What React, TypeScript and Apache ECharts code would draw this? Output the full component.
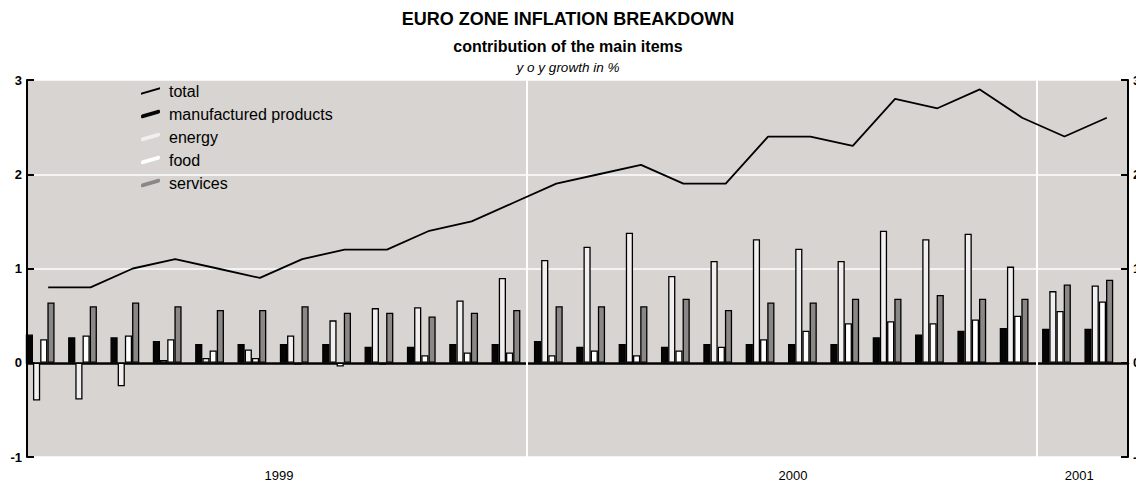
import React, { useEffect, useRef } from "react";
import * as echarts from "echarts";

const months = [
  "1999-01", "1999-02", "1999-03", "1999-04", "1999-05", "1999-06",
  "1999-07", "1999-08", "1999-09", "1999-10", "1999-11", "1999-12",
  "2000-01", "2000-02", "2000-03", "2000-04", "2000-05", "2000-06",
  "2000-07", "2000-08", "2000-09", "2000-10", "2000-11", "2000-12",
  "2001-01", "2001-02",
];

const total = [0.8, 0.8, 1.0, 1.1, 1.0, 0.9, 1.1, 1.2, 1.2, 1.4, 1.5, 1.7, 1.9, 2.0, 2.1, 1.9, 1.9, 2.4, 2.4, 2.3, 2.8, 2.7, 2.9, 2.6, 2.4, 2.6];
const manufactured = [0.30, 0.27, 0.27, 0.23, 0.20, 0.20, 0.20, 0.20, 0.17, 0.17, 0.20, 0.20, 0.23, 0.17, 0.20, 0.17, 0.20, 0.20, 0.20, 0.20, 0.27, 0.30, 0.34, 0.37, 0.36, 0.36];
const energy = [-0.40, -0.39, -0.25, 0.03, 0.05, 0.14, 0.29, 0.45, 0.58, 0.59, 0.66, 0.90, 1.09, 1.23, 1.38, 0.92, 1.08, 1.31, 1.21, 1.08, 1.40, 1.31, 1.37, 1.02, 0.76, 0.82];
const food = [0.25, 0.29, 0.29, 0.25, 0.13, 0.05, -0.02, -0.04, -0.02, 0.08, 0.11, 0.11, 0.08, 0.13, 0.08, 0.13, 0.17, 0.25, 0.34, 0.42, 0.44, 0.42, 0.46, 0.50, 0.55, 0.65];
const services = [0.64, 0.60, 0.64, 0.60, 0.56, 0.56, 0.60, 0.53, 0.53, 0.49, 0.53, 0.56, 0.60, 0.60, 0.60, 0.68, 0.56, 0.64, 0.64, 0.68, 0.68, 0.72, 0.68, 0.68, 0.83, 0.88];

const yearLabels = ["1999", "2000", "2001"];

const FONT = "'Liberation Sans', Arial, Helvetica, sans-serif";

const THIN_ICON = "path://M0,5.6 L19,0 L19,1.9 L0,7.5 Z";
const THICK_ICON =
  "path://M1.8,5.2 L16.5,0.8 C18.2,0.3 19,0.8 19,2.2 L19,2.8 C19,3.8 18.4,4.2 17.2,4.6 L2.5,9 C0.8,9.5 0,9 0,7.6 L0,7 C0,6 0.6,5.6 1.8,5.2 Z";

export default function App() {
  const ref = useRef<HTMLDivElement>(null);

  useEffect(() => {
    if (!ref.current) return;
    const chart = echarts.init(ref.current, undefined, { renderer: "svg" });

    const yearPos = [5.95, 18.09, 24.85];
    const boundaries = [11.8, 23.85];

    const barStyle = (color: string) => ({
      color,
      borderColor: "#000",
      borderWidth: 1.3,
    });

    const axisBlack = { color: "#000", width: 2 };

    const option: any = {
      animation: false,
      backgroundColor: "#ffffff",
      title: [
        {
          text: "EURO ZONE INFLATION BREAKDOWN",
          left: "center",
          top: 5,
          textStyle: { fontFamily: FONT, fontWeight: "bold", fontSize: 18, color: "#000" },
        },
        {
          text: "contribution of the main items",
          left: "center",
          top: 33,
          textStyle: { fontFamily: FONT, fontWeight: "bold", fontSize: 16, color: "#000" },
        },
        {
          text: "y o y growth in %",
          left: "center",
          top: 55,
          textStyle: { fontFamily: FONT, fontStyle: "italic", fontWeight: "normal", fontSize: 13.5, color: "#000" },
        },
      ],
      legend: {
        orient: "vertical",
        left: 136,
        top: 78,
        itemWidth: 19,
        itemHeight: 9,
        itemGap: 7,
        selectedMode: false,
        textStyle: { fontFamily: FONT, fontSize: 16, color: "#000", padding: [0, 0, 0, 4] },
        itemStyle: { borderWidth: 0 },
        data: [
          { name: "total", icon: THIN_ICON },
          { name: "manufactured products", icon: THICK_ICON },
          { name: "energy", icon: THICK_ICON },
          { name: "food", icon: THICK_ICON },
          { name: "services", icon: THICK_ICON },
        ],
      },
      grid: [
        { left: 27, right: 8, top: 80, bottom: 26, show: true, backgroundColor: "#d7d4d1", borderWidth: 0, outerBoundsMode: "none", containLabel: false },
        { left: 19, right: 16, top: 80, bottom: 26, show: false, outerBoundsMode: "none", containLabel: false },
      ],
      xAxis: [
        {
          type: "category",
          gridIndex: 0,
          data: months,
          boundaryGap: true,
          axisLine: { show: true, onZero: true, lineStyle: { color: "#000", width: 2.5 } },
          axisTick: { show: false },
          axisLabel: { show: false },
          splitLine: { show: false },
        },
        {
          type: "category",
          gridIndex: 1,
          data: months,
          boundaryGap: true,
          show: false,
        },
        {
          type: "value",
          gridIndex: 0,
          min: 0,
          max: 26,
          position: "bottom",
          axisLine: { show: false },
          axisTick: { show: false },
          splitLine: { show: false },
          axisLabel: {
            customValues: yearPos,
            margin: 12,
            fontFamily: FONT,
            fontSize: 13,
            color: "#000",
            formatter: (v: number) => {
              let best = 0;
              for (let i = 1; i < yearPos.length; i++) {
                if (Math.abs(yearPos[i] - v) < Math.abs(yearPos[best] - v)) best = i;
              }
              return yearLabels[best];
            },
          },
        },
      ],
      yAxis: [
        {
          type: "value",
          gridIndex: 0,
          min: -1,
          max: 3,
          interval: 1,
          position: "left",
          axisLine: { show: true, onZero: false, lineStyle: axisBlack },
          axisTick: { show: true, inside: true, length: 7, lineStyle: axisBlack },
          axisLabel: { margin: 5, fontFamily: FONT, fontWeight: "bold", fontSize: 13, color: "#000" },
          splitLine: { show: true, lineStyle: { color: "#ffffff", width: 1.5 } },
        },
        {
          type: "value",
          gridIndex: 0,
          min: -1,
          max: 3,
          interval: 1,
          position: "right",
          axisLine: { show: true, onZero: false, lineStyle: axisBlack },
          axisTick: { show: true, inside: true, length: 7, lineStyle: axisBlack },
          axisLabel: { margin: 5, fontFamily: FONT, fontWeight: "bold", fontSize: 13, color: "#000" },
          splitLine: { show: false },
        },
        {
          type: "value",
          gridIndex: 1,
          min: -1,
          max: 3,
          interval: 1,
          show: false,
          axisLine: { onZero: false },
          splitLine: { show: false },
        },
      ],
      series: [
        {
          name: "year boundaries",
          type: "line",
          xAxisIndex: 2,
          yAxisIndex: 0,
          data: [],
          silent: true,
          z: 1,
          markLine: {
            silent: true,
            symbol: "none",
            z: 1,
            label: { show: false },
            lineStyle: { color: "#ffffff", width: 2, type: "solid" },
            data: boundaries.map((b) => ({ xAxis: b })),
          },
        },
        {
          name: "manufactured products",
          type: "bar",
          xAxisIndex: 1,
          yAxisIndex: 2,
          data: manufactured,
          barWidth: 7.2,
          barGap: "0%",
          itemStyle: barStyle("#050505"),
          z: 2,
        },
        {
          name: "energy",
          type: "bar",
          xAxisIndex: 1,
          yAxisIndex: 2,
          data: energy,
          barWidth: 7.2,
          barGap: "0%",
          itemStyle: barStyle("#f1efef"),
          z: 2,
        },
        {
          name: "food",
          type: "bar",
          xAxisIndex: 1,
          yAxisIndex: 2,
          data: food,
          barWidth: 7.2,
          barGap: "0%",
          itemStyle: barStyle("#ffffff"),
          z: 2,
        },
        {
          name: "services",
          type: "bar",
          xAxisIndex: 1,
          yAxisIndex: 2,
          data: services,
          barWidth: 7.2,
          barGap: "0%",
          itemStyle: barStyle("#8a8886"),
          z: 2,
        },
        {
          name: "total",
          type: "line",
          xAxisIndex: 0,
          yAxisIndex: 0,
          data: total,
          symbol: "none",
          itemStyle: { color: "#000" },
          lineStyle: { color: "#000", width: 1.8 },
          z: 6,
        },
      ],
    };

    chart.setOption(option);
    return () => chart.dispose();
  }, []);

  return (
    <div
      ref={ref}
      style={{ position: "absolute", left: 0, top: 0, width: 1136, height: 483 }}
    />
  );
}
